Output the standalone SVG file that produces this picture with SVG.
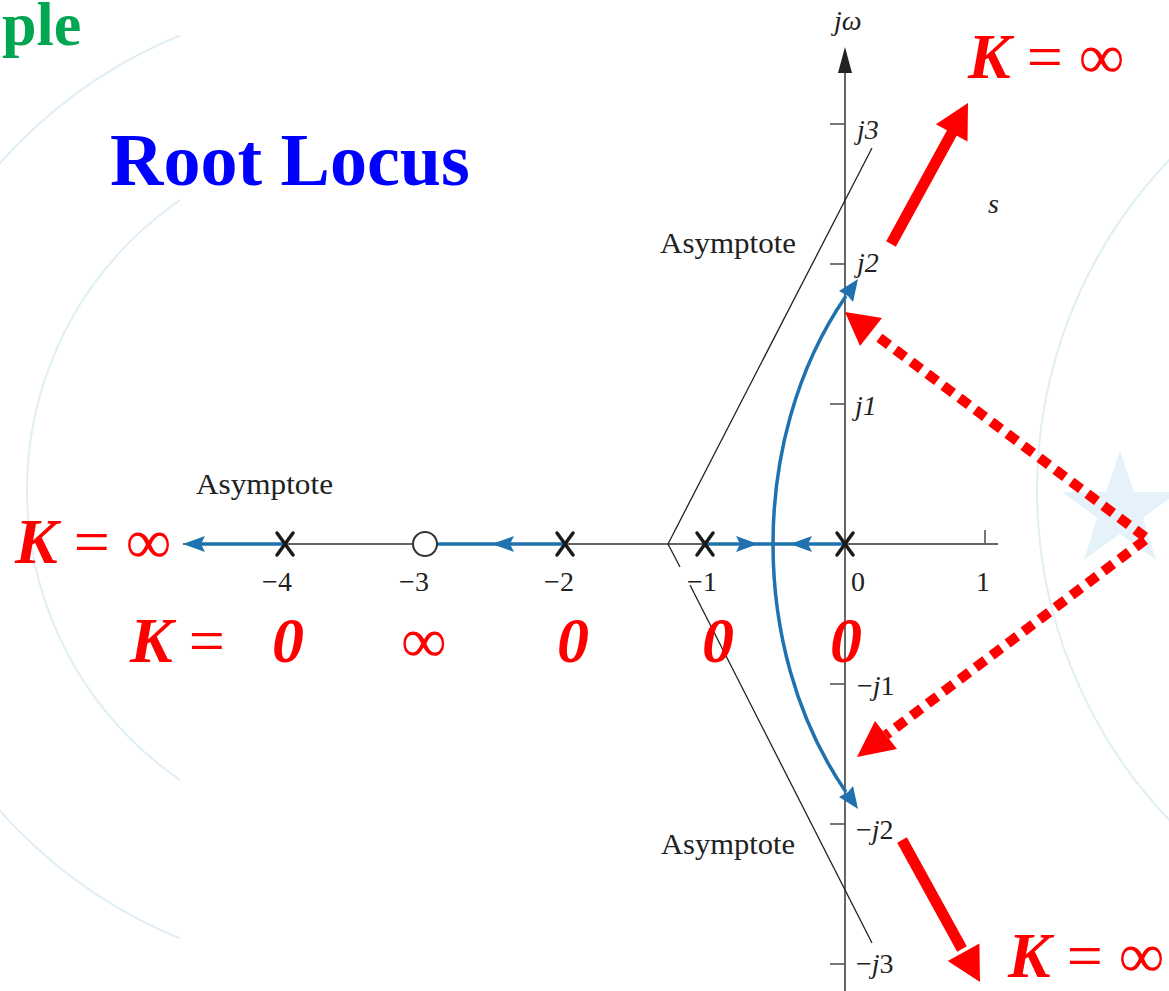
<svg xmlns="http://www.w3.org/2000/svg" width="1169" height="991" viewBox="0 0 1169 991">
  <defs>
    <style>
      .wm { fill: none; stroke: #e0eef6; stroke-width: 2; }
      .ax { stroke: #333; stroke-width: 1.6; fill: none; }
      .vax { stroke: #666; stroke-width: 2; fill: none; }
      .tick { stroke: #555; stroke-width: 1.6; }
      .asy { stroke: #222; stroke-width: 1.3; fill: none; }
      .loc { stroke: #1f72ad; stroke-width: 3.5; fill: none; }
      .lochead { fill: #1f72ad; }
      .pole { stroke: #1a1a1a; stroke-width: 3.5; stroke-linecap: round; }
      .zero { fill: #fff; stroke: #333; stroke-width: 2; }
      .lbl { font-family: "Liberation Serif", "Times New Roman", serif; font-size: 28px; fill: #222; }
      .it { font-style: italic; }
      .asyl { font-family: "Liberation Serif", "Times New Roman", serif; font-size: 30px; fill: #222; }
      .rk { font-family: "Liberation Serif", "Times New Roman", serif; font-size: 64px; fill: #ff0000; }
      .kb { font-weight: bold; font-style: italic; }
      .red { fill: #ff0000; }
      .redl { stroke: #ff0000; stroke-width: 11; fill: none; }
      .dots { stroke: #ff0000; stroke-width: 10; stroke-dasharray: 12 8; fill: none; }
    </style>
    <clipPath id="sclip"><rect x="980" y="180" width="19" height="50"/></clipPath>
  </defs>

  <rect x="0" y="0" width="1169" height="991" fill="#ffffff"/>

  <!-- faint watermark -->
  <g id="watermark">
    <circle class="wm" cx="365" cy="487" r="488"/>
    <circle class="wm" cx="378" cy="490" r="351"/>
    <circle class="wm" cx="1515" cy="490" r="478"/>
    <polygon fill="#e6f2f9" points="1120,450 1134,492 1178,492 1143,518 1156,560 1120,534 1084,560 1097,518 1062,492 1106,492"/>
  </g>

  <!-- plot area background -->
  <rect x="180" y="0" width="823" height="991" fill="#ffffff"/>

  <!-- titles -->
  <text id="title-ple" x="2" y="45" font-family="Liberation Serif, serif" font-size="62" font-weight="bold" fill="#00a651">ple</text>
  <text id="title-root-locus" x="110" y="185" font-family="Liberation Serif, serif" font-size="74" font-weight="bold" fill="#0000ff">Root Locus</text>

  <!-- axes -->
  <g id="axes">
    <line class="ax" x1="183" y1="544" x2="998" y2="544"/>
    <line class="vax" x1="845" y1="68" x2="845" y2="991"/>
    <polygon fill="#222" points="845,47 852,73 838,73"/>
    <line class="tick" x1="830" y1="124" x2="845" y2="124"/>
    <line class="tick" x1="830" y1="264" x2="845" y2="264"/>
    <line class="tick" x1="830" y1="404" x2="845" y2="404"/>
    <line class="tick" x1="830" y1="684" x2="845" y2="684"/>
    <line class="tick" x1="830" y1="824" x2="845" y2="824"/>
    <line class="tick" x1="830" y1="964" x2="845" y2="964"/>
    <line class="tick" x1="985" y1="530" x2="985" y2="544"/>
  </g>

  <!-- asymptotes -->
  <g id="asymptotes">
    <line class="asy" x1="668" y1="544" x2="872" y2="148"/>
    <line class="asy" x1="668" y1="544" x2="680" y2="567"/>
    <line class="asy" x1="690" y1="585" x2="872" y2="943"/>
  </g>

  <!-- axis labels -->
  <g id="axis-labels">
    <text class="lbl it" x="834" y="30">jω</text>
    <text class="lbl it" x="857" y="139">j3</text>
    <text class="lbl it" x="857" y="272">j2</text>
    <text class="lbl it" x="855" y="415">j1</text>
    <text class="lbl" x="857" y="695">−<tspan class="it">j</tspan>1</text>
    <text class="lbl" x="856" y="839">−<tspan class="it">j</tspan>2</text>
    <text class="lbl" x="856" y="973">−<tspan class="it">j</tspan>3</text>
    <text class="lbl" x="277" y="591" text-anchor="middle">−4</text>
    <text class="lbl" x="414" y="591" text-anchor="middle">−3</text>
    <text class="lbl" x="559" y="591" text-anchor="middle">−2</text>
    <text class="lbl" x="702" y="591" text-anchor="middle">−1</text>
    <text class="lbl" x="858" y="591" text-anchor="middle">0</text>
    <text class="lbl" x="983" y="591" text-anchor="middle">1</text>
    <text class="lbl it" x="988" y="213" clip-path="url(#sclip)">s</text>
    <text class="asyl" x="660" y="253" textLength="136" lengthAdjust="spacingAndGlyphs">Asymptote</text>
    <text class="asyl" x="196" y="494" textLength="137" lengthAdjust="spacingAndGlyphs">Asymptote</text>
    <text class="asyl" x="661" y="854" textLength="134" lengthAdjust="spacingAndGlyphs">Asymptote</text>
  </g>

  <!-- root locus branches (connectors) -->
  <g id="locus">
    <line class="loc" x1="200" y1="544" x2="285" y2="544"/>
    <polygon class="lochead" points="183,544 205,536 201,544 205,552"/>
    <line class="loc" x1="437" y1="544" x2="565" y2="544"/>
    <polygon class="lochead" points="492,544 514,536 510,544 514,552"/>
    <line class="loc" x1="705" y1="544" x2="845" y2="544"/>
    <polygon class="lochead" points="758,544 736,536 740,544 736,552"/>
    <polygon class="lochead" points="790,544 812,536 808,544 812,552"/>
    <path class="loc" d="M773,544 C773,460 795,370 846,296"/>
    <polygon class="lochead" points="858,279 853,302 848,296 839,291"/>
    <path class="loc" d="M773,544 C773,628 795,718 846,792"/>
    <polygon class="lochead" points="858,809 853,786 848,792 839,797"/>
  </g>

  <!-- poles and zero -->
  <g id="pole-m4"><line class="pole" x1="277" y1="533" x2="293" y2="555"/><line class="pole" x1="293" y1="533" x2="277" y2="555"/></g>
  <g id="zero-m3"><circle class="zero" cx="425" cy="544" r="12"/></g>
  <g id="pole-m2"><line class="pole" x1="557" y1="533" x2="573" y2="555"/><line class="pole" x1="573" y1="533" x2="557" y2="555"/></g>
  <g id="pole-m1"><line class="pole" x1="697" y1="533" x2="713" y2="555"/><line class="pole" x1="713" y1="533" x2="697" y2="555"/></g>
  <g id="pole-0"><line class="pole" x1="837" y1="533" x2="853" y2="555"/><line class="pole" x1="853" y1="533" x2="837" y2="555"/></g>

  <!-- red annotations -->
  <g id="red-arrows">
    <line class="redl" x1="891" y1="244" x2="954" y2="129"/>
    <polygon class="red" points="968,103 967.5,141.5 935.9,124.3"/>
    <line class="redl" x1="902" y1="840" x2="962" y2="949"/>
    <polygon class="red" points="980,982 979.4,943.5 947.8,960.9"/>
    <line class="dots" x1="1145" y1="537" x2="873" y2="333"/>
    <polygon class="red" points="845,312 882,318 860,346"/>
    <line class="dots" x1="1145" y1="540" x2="886" y2="735"/>
    <polygon class="red" points="857,757 875,721 897,749"/>
  </g>

  <g id="k-labels">
    <text class="rk" x="968" y="78"><tspan class="kb">K</tspan> = ∞</text>
    <text class="rk" x="15" y="563"><tspan class="kb">K</tspan> = ∞</text>
    <text class="rk" x="1008" y="977"><tspan class="kb">K</tspan> = ∞</text>
    <text class="rk" x="130" y="662"><tspan class="kb">K</tspan> =</text>
    <text class="rk kb" x="272" y="662">0</text>
    <text class="rk" x="401" y="662">∞</text>
    <text class="rk kb" x="557" y="662">0</text>
    <text class="rk kb" x="702" y="662">0</text>
    <text class="rk kb" x="830" y="662">0</text>
  </g>
</svg>
